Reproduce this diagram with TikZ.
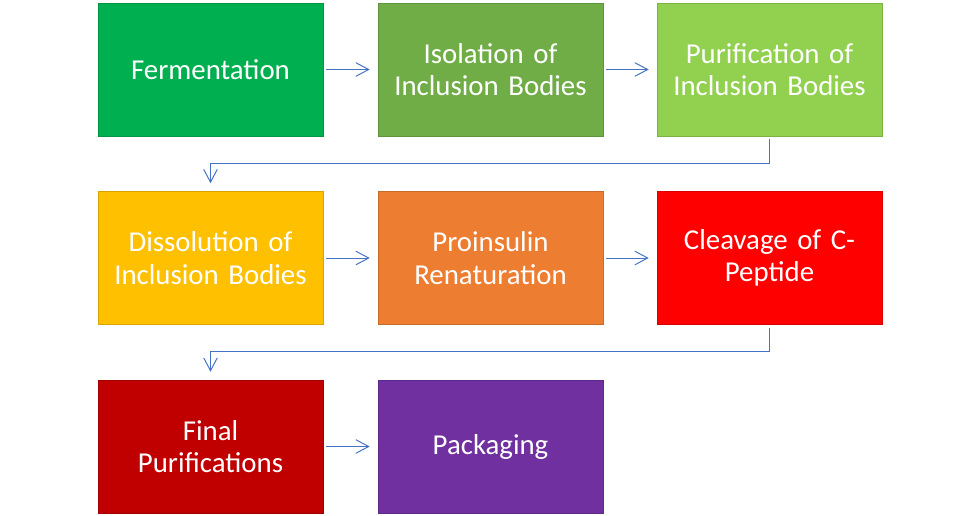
\documentclass[tikz,border=0pt]{standalone}
\usepackage{fontspec}
\setmainfont{Carlito}
\usetikzlibrary{arrows.meta}

\definecolor{cFerm}{HTML}{00B050}
\definecolor{cIsol}{HTML}{70AD47}
\definecolor{cPuri}{HTML}{92D050}
\definecolor{cDiss}{HTML}{FFC000}
\definecolor{cProi}{HTML}{ED7D31}
\definecolor{cClea}{HTML}{FF0000}
\definecolor{cFina}{HTML}{C00000}
\definecolor{cPack}{HTML}{7030A0}
\definecolor{cLink}{HTML}{4472C4}

\tikzset{
  stepbox/.style={draw=#1!85!black, fill=#1, line width=0.4pt,
    minimum width=5.625cm, minimum height=3.325cm, inner sep=0pt,
    text width=5.4cm, align=center, text=white,
    font=\fontsize{20.5}{23}\selectfont},
  link/.style={draw=cLink, line width=0.7pt,
    -{Straight Barb[length=3.2mm, width=3.4mm]},
    shorten <=0.075cm, shorten >=0.2cm}
}

\begin{document}
\begin{tikzpicture}

\useasboundingbox (0,0) rectangle (24.5,-12.9);

% Row 1
\node[stepbox=cFerm] (ferm) at (5.2625,-1.7375) {Fermentation};
\node[stepbox=cIsol] (isol) at (12.2625,-1.7375) {Isolation of\\Inclusion Bodies};
\node[stepbox=cPuri] (puri) at (19.2375,-1.7375) {Purification of\\Inclusion Bodies};

% Row 2
\node[stepbox=cDiss] (diss) at (5.2625,-6.45) {Dissolution of\\Inclusion Bodies};
\node[stepbox=cProi] (proi) at (12.2625,-6.45) {Proinsulin\\Renaturation};
\node[stepbox=cClea] (clea) at (19.2375,-6.45) {Cleavage of C-\\Peptide};

% Row 3
\node[stepbox=cFina] (fina) at (5.2625,-11.1625) {Final\\Purifications};
\node[stepbox=cPack] (pack) at (12.2625,-11.1625) {Packaging};

% Arrows
\draw[link] (ferm) -- (isol);
\draw[link] (isol) -- (puri);
\draw[link] (diss) -- (proi);
\draw[link] (proi) -- (clea);
\draw[link] (fina) -- (pack);

\draw[link] (puri.south) -- ++(0,-0.675) -| (diss.north);
\draw[link] (clea.south) -- ++(0,-0.675) -| (fina.north);

\end{tikzpicture}
\end{document}
